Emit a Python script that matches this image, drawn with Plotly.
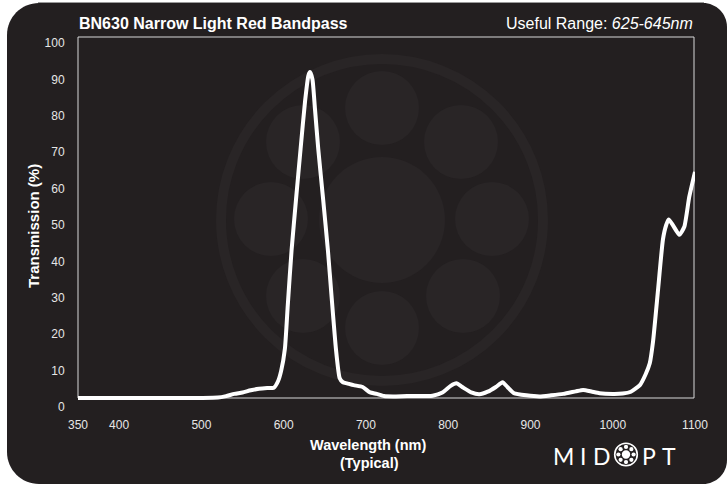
import math
import plotly.graph_objects as go

W, H = 727, 484

wavelength = [350, 400, 450, 500, 520, 530, 540, 550, 560, 570, 580, 588, 593, 597,
              601.5, 605, 609.6, 615, 620.6, 626, 630, 632, 635, 638, 642, 648, 653.8,
              658, 663.5, 668, 672, 677, 685, 696, 705, 713, 722, 733, 750, 781, 793,
              803, 810, 817, 828, 838, 848, 858, 866, 872, 880, 895, 911, 925, 940, 955,
              964, 975, 984, 1000, 1012, 1022, 1033, 1040, 1045, 1049, 1055, 1061, 1065,
              1068, 1073, 1081, 1087, 1093, 1100]
transmission = [2.5, 2.5, 2.5, 2.5, 2.6, 3.0, 3.6, 4.0, 4.6, 5.0, 5.2, 5.3, 7, 10,
                16, 28, 43, 57, 71, 84, 91, 92, 90, 82, 71, 57, 43,
                31, 16, 8, 6.8, 6.5, 6.0, 5.5, 4.0, 3.6, 3.0, 2.9, 3.0, 3.1, 4.0,
                5.8, 6.5, 5.5, 4.0, 3.5, 4.2, 5.5, 6.8, 5.5, 3.8, 3.2, 2.9, 3.2, 3.6, 4.3,
                4.7, 4.2, 3.8, 3.6, 3.7, 4.2, 6.0, 9, 12, 18, 32, 46, 50,
                51.5, 50, 47.3, 49.5, 57.7, 64.6]

x_ticks = [350, 400, 500, 600, 700, 800, 900, 1000, 1100]
y_ticks = [0, 10, 20, 30, 40, 50, 60, 70, 80, 90, 100]

title_text = "BN630 Narrow Light Red Bandpass"
range_label = "Useful Range: "
range_value = "625-645nm"
x_title = "Wavelength (nm)"
x_subtitle = "(Typical)"
y_title = "Transmission (%)"
logo_letters = ["M", "I", "D", "P", "T"]

BG = "#231f20"
WM = "#292526"
FONT = "Liberation Sans, Arial, sans-serif"


def px(x):
    return x / W


def py(y):
    return 1 - y / H


def P(x, y):
    return f"{px(x):.5f},{py(y):.5f}"


def rounded_rect(x0, y0, x1, y1, r_tl, r_tr, r_br, r_bl):
    k = 0.5523
    s = f"M {P(x0 + r_tl, y0)} L {P(x1 - r_tr, y0)} "
    s += f"C {P(x1 - r_tr + k * r_tr, y0)} {P(x1, y0 + r_tr - k * r_tr)} {P(x1, y0 + r_tr)} "
    s += f"L {P(x1, y1 - r_br)} "
    s += f"C {P(x1, y1 - r_br + k * r_br)} {P(x1 - r_br + k * r_br, y1)} {P(x1 - r_br, y1)} "
    s += f"L {P(x0 + r_bl, y1)} "
    s += f"C {P(x0 + r_bl - k * r_bl, y1)} {P(x0, y1 - r_bl + k * r_bl)} {P(x0, y1 - r_bl)} "
    s += f"L {P(x0, y0 + r_tl)} "
    s += f"C {P(x0, y0 + r_tl - k * r_tl)} {P(x0 + r_tl - k * r_tl, y0)} {P(x0 + r_tl, y0)} Z"
    return s


def circle(cx, cy, r, fill=None, line=None, lw=0, layer="below"):
    return dict(type="circle", xref="paper", yref="paper",
                x0=px(cx - r), x1=px(cx + r), y0=py(cy + r), y1=py(cy - r),
                fillcolor=fill if fill else "rgba(0,0,0,0)",
                line=dict(color=line if line else "rgba(0,0,0,0)", width=lw),
                layer=layer)


shapes = []
shapes.append(dict(type="path", xref="paper", yref="paper",
                   path=rounded_rect(7, 3, 727, 484, 32, 24, 24, 32),
                   fillcolor=BG, line=dict(width=0), layer="below"))
shapes.append(dict(type="line", xref="paper", yref="paper",
                   x0=px(38), x1=px(704), y0=py(2.5), y1=py(2.5),
                   line=dict(color="#9a9a9a", width=1), layer="below"))

# watermark
wcx, wcy = 382, 220
shapes.append(circle(wcx, wcy, 161, line=WM, lw=10))
shapes.append(circle(wcx, wcy, 63, fill=WM))
for (cx, cy) in [(382, 108), (303, 142), (461, 142), (271, 219), (492, 219),
                 (303, 296), (463, 296), (382, 328)]:
    shapes.append(circle(cx, cy, 37, fill=WM))

# plot frame
shapes.append(dict(type="rect", xref="paper", yref="paper",
                   x0=px(78), x1=px(694), y0=py(398), y1=py(37),
                   line=dict(color="#d8d8d8", width=1), fillcolor="rgba(0,0,0,0)",
                   layer="below"))

# logo icon
lcx, lcy = 626, 454.5
shapes.append(circle(lcx, lcy, 11.3, line="white", lw=1.6, layer="above"))
shapes.append(circle(lcx, lcy, 4.2, fill="white", layer="above"))
for i in range(8):
    a = i * math.pi / 4
    shapes.append(circle(lcx + 7.6 * math.cos(a), lcy + 7.6 * math.sin(a), 2.1,
                         fill="white", layer="above"))

fig = go.Figure()
fig.add_trace(go.Scatter(x=wavelength, y=transmission, mode="lines",
                         line=dict(color="white", width=4, shape="spline", smoothing=0.5),
                         hoverinfo="skip", showlegend=False, cliponaxis=False))

annotations = []
annotations.append(dict(text=f"<b>{title_text}</b>", x=px(77), y=py(23),
                        xref="paper", yref="paper", xanchor="left", yanchor="middle",
                        showarrow=False, font=dict(family=FONT, size=16, color="white")))
annotations.append(dict(text=f"{range_label}<i>{range_value}</i>", x=px(695), y=py(23),
                        xref="paper", yref="paper", xanchor="right", yanchor="middle",
                        showarrow=False, font=dict(family=FONT, size=16, color="white")))
annotations.append(dict(text=f"<b>{x_title}</b>", x=px(368), y=py(445),
                        xref="paper", yref="paper", xanchor="center", yanchor="middle",
                        showarrow=False, font=dict(family=FONT, size=14.5, color="white")))
annotations.append(dict(text=f"<b>{x_subtitle}</b>", x=px(370), y=py(463),
                        xref="paper", yref="paper", xanchor="center", yanchor="middle",
                        showarrow=False, font=dict(family=FONT, size=14.5, color="white")))
annotations.append(dict(text=f"<b>{y_title}</b>", x=px(33), y=py(226), textangle=-90,
                        xref="paper", yref="paper", xanchor="center", yanchor="middle",
                        showarrow=False, font=dict(family=FONT, size=15, color="white")))
for letter, cx in zip(logo_letters, [563, 583, 602, 649, 669]):
    annotations.append(dict(text=letter, x=px(cx), y=py(455.5),
                            xref="paper", yref="paper", xanchor="center", yanchor="middle",
                            showarrow=False,
                            font=dict(family="Lato, Roboto, sans-serif", size=23,
                                      color="white")))

fig.update_layout(
    width=W, height=H,
    margin=dict(l=0, r=0, t=0, b=0, pad=0, autoexpand=False),
    paper_bgcolor="white",
    plot_bgcolor="rgba(0,0,0,0)",
    shapes=shapes,
    annotations=annotations,
    xaxis=dict(domain=[px(78), px(695)], range=[350, 1100], automargin=False,
               tickvals=x_ticks, ticktext=[str(v) for v in x_ticks],
               showgrid=False, zeroline=False, showline=False,
               ticks="outside", ticklen=7, tickcolor="rgba(0,0,0,0)",
               tickfont=dict(family=FONT, size=12, color="#e6e6e6"),
               fixedrange=True),
    yaxis=dict(domain=[py(407), py(43)], range=[0, 100], automargin=False,
               tickvals=y_ticks, ticktext=[str(v) for v in y_ticks],
               showgrid=False, zeroline=False, showline=False,
               ticks="outside", ticklen=10, tickcolor="rgba(0,0,0,0)",
               tickfont=dict(family=FONT, size=12, color="#e6e6e6"),
               fixedrange=True),
)

post = ("document.documentElement.style.overflow='hidden';"
        "document.body.style.margin='0';document.body.style.overflow='hidden';"
        "var d=document.getElementById('{plot_id}');"
        "d.style.position='fixed';d.style.left='0px';d.style.top='0px';")
fig.write_html("out.html", config={"displayModeBar": False}, post_script=post)
